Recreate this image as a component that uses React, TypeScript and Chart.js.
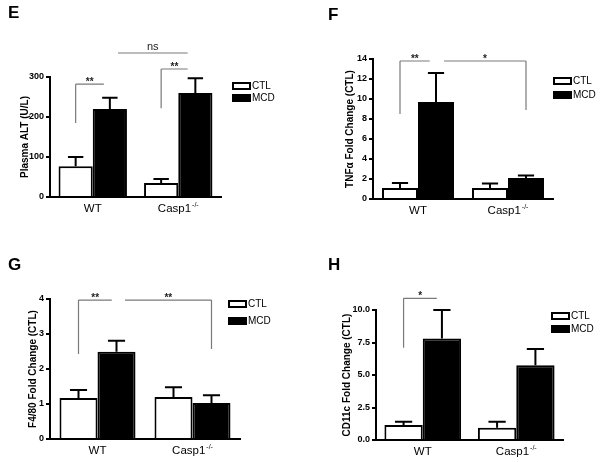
import { useEffect, useRef } from "react";
import { Chart, registerables } from "chart.js";

Chart.register(...registerables);
Chart.defaults.font.family = "'Liberation Sans', Arial, sans-serif";

// ---------- data ----------
const groups = ["WT", "Casp1-/-"];
const seriesLabels = ["CTL", "MCD"];

// E: Plasma ALT (U/L)
const altCtl = [77, 35];
const altCtlSem = [23, 10];
const altMcd = [220, 260];
const altMcdSem = [28, 37];

// F: TNFα fold change
const tnfCtl = [1.1, 1.1];
const tnfCtlSem = [0.5, 0.45];
const tnfMcd = [9.7, 2.1];
const tnfMcdSem = [2.9, 0.25];

// G: F4/80 fold change
const f480Ctl = [1.17, 1.2];
const f480CtlSem = [0.23, 0.28];
const f480Mcd = [2.49, 1.03];
const f480McdSem = [0.32, 0.22];

// H: CD11c fold change
const cd11cCtl = [1.15, 0.95];
const cd11cCtlSem = [0.25, 0.45];
const cd11cMcd = [7.8, 5.75];
const cd11cMcdSem = [2.2, 1.25];

// significance brackets (x in category units, y in data units)
const altBrackets = [
  { x1: -0.2, x2: 0.13, y: 282, leg1: 185, leg2: null, text: "**" },
  { x1: 0.8, x2: 1.11, y: 320, leg1: 222, leg2: null, text: "**" },
  { x1: 0.295, x2: 1.11, y: 360, leg1: null, leg2: null, text: "ns" },
];
const tnfBrackets = [
  { x1: -0.2, x2: 0.13, y: 13.8, leg1: 8.5, leg2: null, text: "**" },
  { x1: 0.29, x2: 1.2, y: 13.8, leg1: null, leg2: 8.9, text: "*" },
];
const f480Brackets = [
  { x1: -0.2, x2: 0.15, y: 3.97, leg1: 2.43, leg2: null, text: "**" },
  { x1: 0.29, x2: 1.2, y: 3.97, leg1: null, leg2: 2.57, text: "**" },
];
const cd11cBrackets = [
  { x1: -0.205, x2: 0.15, y: 10.9, leg1: 7.1, leg2: null, text: "*" },
];

// ---------- panels (layout) ----------
const panels = [
  {
    letter: "E", left: 0, top: 0, ctl: altCtl, ctlSem: altCtlSem, mcd: altMcd, mcdSem: altMcdSem,
    max: 300, step: 100, decimals: 0, yTitle: "Plasma ALT (U/L)", brackets: altBrackets,
    area: { l: 50, r: 221, t: 77, b: 197 }, titleX: 25, catPct: 0.8,
    legend: { x: 232, y1: 82, y2: 94 }, letterPos: { x: 8, y: 18 },
  },
  {
    letter: "F", left: 300, top: 0, ctl: tnfCtl, ctlSem: tnfCtlSem, mcd: tnfMcd, mcdSem: tnfMcdSem,
    max: 14, step: 2, decimals: 0, yTitle: "TNFα Fold Change (CTL)", brackets: tnfBrackets,
    area: { l: 73, r: 253, t: 59, b: 199 }, titleX: 50, catPct: 0.8,
    legend: { x: 253, y1: 77, y2: 91 }, letterPos: { x: 28, y: 20 },
  },
  {
    letter: "G", left: 0, top: 231, ctl: f480Ctl, ctlSem: f480CtlSem, mcd: f480Mcd, mcdSem: f480McdSem,
    max: 4, step: 1, decimals: 0, yTitle: "F4/80 Fold Change (CTL)", brackets: f480Brackets,
    area: { l: 50, r: 240, t: 68, b: 208 }, titleX: 33, catPct: 0.8,
    legend: { x: 228, y1: 69, y2: 86 }, letterPos: { x: 8, y: 39 },
  },
  {
    letter: "H", left: 300, top: 231, ctl: cd11cCtl, ctlSem: cd11cCtlSem, mcd: cd11cMcd, mcdSem: cd11cMcdSem,
    max: 10, step: 2.5, decimals: 1, yTitle: "CD11c Fold Change (CTL)", brackets: cd11cBrackets,
    area: { l: 76, r: 263, t: 79, b: 209 }, titleX: 47, catPct: 0.82,
    legend: { x: 251, y1: 81, y2: 94 }, letterPos: { x: 28, y: 39 },
  },
];

const FONT = "'Liberation Sans', Arial, sans-serif";

const decorPlugin = {
  id: "decor",
  afterDatasetsDraw(chart: any) {
    const ctx = chart.ctx;
    const yScale = chart.scales.y;
    ctx.save();
    ctx.strokeStyle = "#000";
    ctx.lineWidth = 2;
    chart.data.datasets.forEach((ds: any, di: number) => {
      const meta = chart.getDatasetMeta(di);
      meta.data.forEach((bar: any, i: number) => {
        const v = ds.data[i];
        const top = yScale.getPixelForValue(v + ds.sem[i]);
        const cap = bar.width * 0.45;
        ctx.beginPath();
        ctx.moveTo(bar.x, bar.y);
        ctx.lineTo(bar.x, top);
        ctx.moveTo(bar.x - cap / 2, top);
        ctx.lineTo(bar.x + cap / 2, top);
        ctx.stroke();
      });
    });
    ctx.restore();
  },
  afterDraw(chart: any) {
    const ctx = chart.ctx;
    const o = chart.options.plugins.decor;
    const xs = chart.scales.x;
    const ys = chart.scales.y;
    ctx.save();

    // panel letter
    ctx.fillStyle = "#000";
    ctx.font = `bold 17px ${FONT}`;
    ctx.textAlign = "left";
    ctx.textBaseline = "alphabetic";
    ctx.fillText(o.letter, o.letterPos.x, o.letterPos.y);

    // x category labels with superscript
    const ly = chart.chartArea.bottom + 12;
    chart.data.labels.forEach((lab: string, i: number) => {
      const cx = xs.getPixelForValue(i);
      let base = lab;
      let sup = "";
      if (lab.endsWith("-/-")) {
        base = lab.slice(0, -3);
        sup = "-/-";
      }
      ctx.font = `11.5px ${FONT}`;
      const wb = ctx.measureText(base).width;
      ctx.font = `7px ${FONT}`;
      const ws = sup ? ctx.measureText(sup).width + 1 : 0;
      const x0 = cx - (wb + ws) / 2;
      ctx.textAlign = "left";
      ctx.textBaseline = "middle";
      ctx.font = `11.5px ${FONT}`;
      ctx.fillText(base, x0, ly);
      if (sup) {
        ctx.font = `7px ${FONT}`;
        ctx.fillText(sup, x0 + wb + 1, ly - 4);
      }
    });

    // legend
    const boxW = 19;
    const boxH = 8;
    chart.data.datasets.forEach((ds: any, di: number) => {
      const by = di === 0 ? o.legend.y1 : o.legend.y2;
      const bx = o.legend.x;
      ctx.fillStyle = ds.backgroundColor;
      ctx.fillRect(bx, by, boxW, boxH);
      ctx.strokeStyle = "#000";
      ctx.lineWidth = 2;
      ctx.strokeRect(bx + 1, by + 1, boxW - 2, boxH - 2);
      ctx.fillStyle = "#000";
      ctx.font = `10px ${FONT}`;
      ctx.textAlign = "left";
      ctx.textBaseline = "middle";
      ctx.fillText(ds.label, bx + boxW + 1, by + boxH / 2 + 0.5);
    });

    // significance brackets
    o.brackets.forEach((b: any) => {
      const x1 = xs.getPixelForValue(b.x1);
      const x2 = xs.getPixelForValue(b.x2);
      const y = ys.getPixelForValue(b.y);
      ctx.strokeStyle = "#7a7a7a";
      ctx.lineWidth = 1.2;
      ctx.beginPath();
      ctx.moveTo(x1, y);
      ctx.lineTo(x2, y);
      if (b.leg1 !== null) {
        ctx.moveTo(x1, y);
        ctx.lineTo(x1, ys.getPixelForValue(b.leg1));
      }
      if (b.leg2 !== null) {
        ctx.moveTo(x2, y);
        ctx.lineTo(x2, ys.getPixelForValue(b.leg2));
      }
      ctx.stroke();
      ctx.fillStyle = "#222";
      ctx.textAlign = "center";
      ctx.textBaseline = "alphabetic";
      if (b.text === "ns") {
        ctx.font = `11px ${FONT}`;
        ctx.fillText(b.text, (x1 + x2) / 2, y - 3);
      } else {
        ctx.font = `bold 10px ${FONT}`;
        ctx.fillText(b.text, (x1 + x2) / 2, y + 1);
      }
    });

    ctx.restore();
  },
};

function Panel({ p }: { p: any }) {
  const ref = useRef<HTMLCanvasElement>(null);
  useEffect(() => {
    if (!ref.current) return;
    const chart = new Chart(ref.current, {
      type: "bar",
      data: {
        labels: groups,
        datasets: [
          {
            label: seriesLabels[0], data: p.ctl, sem: p.ctlSem,
            backgroundColor: "#ffffff", borderColor: "#000", borderWidth: 2, borderSkipped: "bottom",
          } as any,
          {
            label: seriesLabels[1], data: p.mcd, sem: p.mcdSem,
            backgroundColor: "#000000", borderColor: "#000", borderWidth: 2, borderSkipped: "bottom",
          } as any,
        ],
      },
      options: {
        responsive: false,
        animation: false,
        events: [],
        layout: { padding: { left: 0, top: p.area.t, right: 300 - p.area.r, bottom: 0 } },
        datasets: { bar: { categoryPercentage: p.catPct, barPercentage: 1 } },
        plugins: {
          legend: { display: false },
          tooltip: { enabled: false },
          decor: {
            letter: p.letter, letterPos: p.letterPos, legend: p.legend, brackets: p.brackets,
          },
        } as any,
        scales: {
          x: {
            grid: { display: false },
            border: { display: true, color: "#000", width: 2 },
            ticks: { display: false },
            afterFit: (s: any) => { s.height = 231 - p.area.b; },
          },
          y: {
            min: 0,
            max: p.max,
            ticks: {
              stepSize: p.step,
              color: "#000",
              padding: 2,
              font: { size: 9, weight: "bold" },
              callback: (v: any) => Number(v).toFixed(p.decimals),
            },
            grid: { drawOnChartArea: false, drawTicks: true, tickLength: 4, color: "#000", lineWidth: 2 },
            border: { display: true, color: "#000", width: 2 },
            title: {
              display: true,
              text: p.yTitle,
              color: "#000",
              font: { size: 10, weight: "bold" },
              padding: { top: p.titleX - 6, bottom: 0 },
            },
            afterFit: (s: any) => { s.width = p.area.l; },
          },
        },
      } as any,
      plugins: [decorPlugin],
    });
    return () => chart.destroy();
  }, [p]);
  return (
    <canvas
      ref={ref}
      width={300}
      height={231}
      style={{ position: "absolute", left: p.left, top: p.top, width: 300, height: 231 }}
    />
  );
}

export default function App() {
  return (
    <div style={{ position: "fixed", left: 0, top: 0, width: 600, height: 462, background: "#fff" }}>
      {panels.map((p) => (
        <Panel key={p.letter} p={p} />
      ))}
    </div>
  );
}
